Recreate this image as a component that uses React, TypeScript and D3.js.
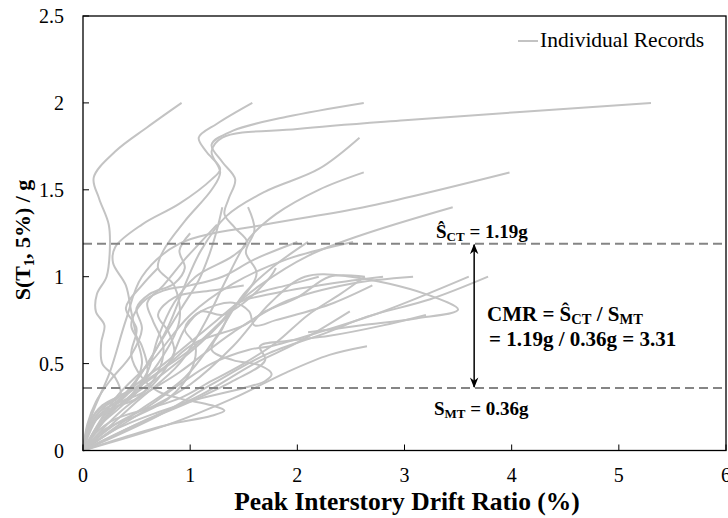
import * as d3 from "d3";

// IDA curves: [drift %, Sa (g)]
const records: [number, number][][] = [
  [[0,0],[0.06,0.14],[0.2,0.25],[0.35,0.32],[0.3,0.42],[0.18,0.5],[0.17,0.62],[0.2,0.72],[0.12,0.8],[0.13,0.9],[0.22,1.0],[0.25,1.15],[0.24,1.3],[0.15,1.45],[0.1,1.57],[0.3,1.72],[0.6,1.86],[0.92,2.0]],
  [[0,0],[0.1,0.16],[0.3,0.26],[0.45,0.35],[0.55,0.5],[0.5,0.65],[0.45,0.8],[0.4,0.95],[0.28,1.08],[0.3,1.17],[0.55,1.3],[0.9,1.42],[1.2,1.56],[1.28,1.62],[1.15,1.72],[1.08,1.8],[1.25,1.88],[1.58,2.0]],
  [[0,0],[0.15,0.14],[0.4,0.28],[0.6,0.45],[0.7,0.65],[0.85,0.85],[1.05,1.0],[1.4,1.12],[1.53,1.2],[1.42,1.28],[1.32,1.36],[1.36,1.45],[1.42,1.56],[1.3,1.66],[1.2,1.76],[1.4,1.84],[1.9,1.92],[2.62,2.0]],
  [[0,0],[0.2,0.18],[0.5,0.35],[0.7,0.5],[0.9,0.75],[0.85,0.95],[0.7,1.05],[0.75,1.15],[0.95,1.32],[1.2,1.5],[1.28,1.6],[1.2,1.72],[1.3,1.8],[2.0,1.85],[3.0,1.9],[5.3,2.0]],
  [[0,0],[0.25,0.22],[0.55,0.45],[0.8,0.72],[0.95,0.95],[1.1,1.15],[1.34,1.35],[1.7,1.49],[2.2,1.62],[2.58,1.8]],
  [[0,0],[0.5,0.28],[0.9,0.5],[1.15,0.75],[1.35,1.0],[1.55,1.22],[1.8,1.36],[2.2,1.5],[2.62,1.6]],
  [[0,0],[0.08,0.2],[0.25,0.45],[0.4,0.75],[0.55,1.0],[0.9,1.19],[1.7,1.3],[2.62,1.4],[3.98,1.6]],
  [[0,0],[0.35,0.3],[0.8,0.52],[1.25,0.75],[1.65,0.95],[2.1,1.12],[2.6,1.24],[3.45,1.4]],
  [[0,0],[0.2,0.2],[0.45,0.36],[0.7,0.6],[0.92,0.82],[1.08,0.98],[1.18,1.13],[1.25,1.27],[1.3,1.4]],
  [[0,0],[0.3,0.24],[0.7,0.42],[1.1,0.62],[1.45,0.85],[1.62,1.02],[1.52,1.14],[1.6,1.27],[1.54,1.4]],
  [[0,0],[0.5,0.22],[0.95,0.42],[1.25,0.66],[1.5,0.9],[1.78,1.06],[2.1,1.2]],
  [[0,0],[0.3,0.3],[0.65,0.52],[1.0,0.78],[1.4,0.96],[1.9,1.1],[2.52,1.2]],
  [[0,0],[0.4,0.25],[0.9,0.45],[1.4,0.68],[1.9,0.86],[2.5,0.96],[3.08,1.0]],
  [[0,0],[0.7,0.2],[1.2,0.38],[1.7,0.55],[2.28,0.68],[2.65,0.77],[3.24,0.87],[3.78,1.0]],
  [[0,0],[0.5,0.2],[1.0,0.38],[1.4,0.6],[1.75,0.85],[2.07,1.0],[2.5,1.0],[3.2,0.9],[3.5,0.81],[3.11,0.76],[2.6,0.72],[2.1,0.68]],
  [[0,0],[0.6,0.18],[1.1,0.32],[1.6,0.5],[2.0,0.62],[2.49,0.8]],
  [[0,0],[0.8,0.15],[1.4,0.3],[1.9,0.45],[2.3,0.55],[2.65,0.6]],
  [[0,0],[0.4,0.08],[0.8,0.15],[1.2,0.2],[1.32,0.23],[1.2,0.26],[0.9,0.3],[0.7,0.34],[0.55,0.42],[0.45,0.55],[0.5,0.7],[0.4,0.82],[0.55,0.95],[0.7,1.05]],
  [[0,0],[0.15,0.2],[0.4,0.32],[0.7,0.45],[1.0,0.58],[1.3,0.75],[1.45,0.85],[1.75,0.9],[2.3,0.96],[2.8,1.0]],
  [[0,0],[0.1,0.2],[0.3,0.3],[0.55,0.38],[0.8,0.5],[1.05,0.62],[1.5,0.72],[1.7,0.8],[2.0,0.88],[2.3,1.0],[2.63,1.0]],
  [[0,0],[0.3,0.12],[0.7,0.22],[1.1,0.3],[1.5,0.36],[1.7,0.4],[1.76,0.44],[1.65,0.49],[1.4,0.52],[1.2,0.58],[1.3,0.7],[1.4,0.82],[1.6,0.9],[1.9,0.95],[2.2,1.0]],
  [[0,0],[0.5,0.15],[1.0,0.28],[1.4,0.4],[1.7,0.52],[1.65,0.6],[1.9,0.63],[2.3,0.66],[2.8,0.72],[3.2,0.78]],
  [[0,0],[0.05,0.1],[0.15,0.2],[0.3,0.25],[0.5,0.3],[0.7,0.45],[0.75,0.6],[0.65,0.75],[0.6,0.85],[0.75,0.95],[0.95,1.1],[1.1,1.2],[1.25,1.3]],
  [[0,0],[0.05,0.12],[0.15,0.22],[0.35,0.28],[0.6,0.35],[0.8,0.5],[0.95,0.7],[1.1,0.8],[1.3,0.78],[1.5,0.85],[1.75,1.0],[1.8,1.05]],
  [[0,0],[0.08,0.15],[0.2,0.22],[0.45,0.3],[0.6,0.45],[0.55,0.6],[0.45,0.72],[0.55,0.85],[0.75,0.92],[1.0,0.95],[1.3,1.0],[1.6,1.1],[2.0,1.2]],
  [[0,0],[0.3,0.15],[0.6,0.25],[0.9,0.38],[1.2,0.5],[1.55,0.58],[1.75,0.6],[2.2,0.68],[2.8,0.8],[3.6,1.0]],
  [[0,0],[0.12,0.1],[0.3,0.18],[0.6,0.24],[0.9,0.3],[1.2,0.4],[1.5,0.5],[1.8,0.62],[2.1,0.78],[2.4,0.9],[2.63,1.0]],
  [[0,0],[0.04,0.15],[0.12,0.28],[0.25,0.4],[0.45,0.55],[0.55,0.7],[0.5,0.82],[0.62,0.9],[0.85,0.96],[0.95,1.05],[0.9,1.15],[1.0,1.25]],
  [[0,0],[0.2,0.12],[0.5,0.2],[0.8,0.3],[1.0,0.45],[1.05,0.6],[0.95,0.7],[1.1,0.8],[1.4,0.85],[1.55,0.8],[1.6,0.72],[1.8,0.75],[2.3,0.84],[2.7,0.95]],
  [[0,0],[0.06,0.16],[0.18,0.26],[0.4,0.33],[0.65,0.42],[0.85,0.55],[0.8,0.68],[0.7,0.78],[0.85,0.88],[1.2,0.92],[1.5,0.95]],
];

const xTicks = [0, 1, 2, 3, 4, 5, 6];
const yTicks = [0, 0.5, 1, 1.5, 2, 2.5];
const sCT = 1.19;
const sMT = 0.36;
const arrowX = 3.65;

const serif = "Liberation Serif, Times New Roman, serif";

export default function App() {
  const x = d3.scaleLinear().domain([0, 6]).range([83, 726]);
  const y = d3.scaleLinear().domain([0, 2.5]).range([450.5, 16]);
  const line = d3
    .line<[number, number]>()
    .x((d) => x(d[0]))
    .y((d) => y(d[1]))
    .curve(d3.curveCatmullRom.alpha(0.5));

  const txt = { fontFamily: serif };

  return (
    <svg
      width={728}
      height={518}
      style={{ position: "absolute", left: 0, top: 0, background: "#fff", fontFamily: serif }}
    >
      <defs>
        <marker id="ah" viewBox="0 0 10 10" refX="9" refY="5" markerWidth="7" markerHeight="7" orient="auto-start-reverse">
          <path d="M0,1 L10,5 L0,9 L3,5 Z" fill="#000" />
        </marker>
      </defs>

      {/* curves */}
      <g fill="none" stroke="#c3c3c3" strokeWidth={2}>
        {records.map((r, i) => (
          <path key={i} d={line(r) || ""} />
        ))}
      </g>

      {/* dashed reference lines */}
      {[sCT, sMT].map((v) => (
        <line key={v} x1={x(0)} x2={x(6)} y1={y(v)} y2={y(v)} stroke="#858585" strokeWidth={2} strokeDasharray="9,5" />
      ))}

      {/* arrow */}
      <line x1={x(arrowX)} x2={x(arrowX)} y1={y(sCT) + 1} y2={y(sMT) - 1} stroke="#000" strokeWidth={1.5}
        markerStart="url(#ah)" markerEnd="url(#ah)" />

      {/* frame */}
      <rect x={x(0)} y={y(2.5)} width={x(6) - x(0)} height={y(0) - y(2.5)} fill="none" stroke="#000" strokeWidth={1.3} />

      {/* ticks */}
      {xTicks.map((t) => (
        <g key={"x" + t}>
          <line x1={x(t)} x2={x(t)} y1={y(0)} y2={y(0) - 6} stroke="#000" />
          <text x={x(t)} y={482} textAnchor="middle" fontSize={20} style={txt}>{t}</text>
        </g>
      ))}
      {yTicks.map((t) => (
        <g key={"y" + t}>
          <line x1={x(0)} x2={x(0) + 6} y1={y(t)} y2={y(t)} stroke="#000" />
          <text x={64} y={y(t) + 7} textAnchor="end" fontSize={20} style={txt}>{t}</text>
        </g>
      ))}

      {/* axis titles */}
      <text x={407} y={510} textAnchor="middle" fontSize={25.5} fontWeight="bold" style={txt}>Peak Interstory Drift Ratio (%)</text>
      <text transform="translate(30,240) rotate(-90)" textAnchor="middle" fontSize={22} fontWeight="bold" style={txt}>
        S(T<tspan fontSize={14} dy={4}>1</tspan><tspan dy={-4}>, 5%) / g</tspan>
      </text>

      {/* legend */}
      <line x1={518} x2={538} y1={41} y2={41} stroke="#c3c3c3" strokeWidth={2} />
      <text x={540} y={47} fontSize={21.5} style={txt}>Individual Records</text>

      {/* annotations */}
      <text x={436} y={238} fontSize={19} fontWeight="bold" style={txt}>
        Ŝ<tspan fontSize={13} dy={3}>CT</tspan><tspan dy={-3}> = 1.19g</tspan>
      </text>
      <text x={434} y={415} fontSize={19} fontWeight="bold" style={txt}>
        S<tspan fontSize={13} dy={3}>MT</tspan><tspan dy={-3}> = 0.36g</tspan>
      </text>
      <text x={487} y={321} fontSize={21} fontWeight="bold" style={txt}>
        CMR = Ŝ<tspan fontSize={14.5} dy={3}>CT</tspan><tspan dy={-3}> / S</tspan><tspan fontSize={14.5} dy={3}>MT</tspan>
      </text>
      <text x={489} y={346} fontSize={21} fontWeight="bold" style={txt}>= 1.19g / 0.36g = 3.31</text>
    </svg>
  );
}
